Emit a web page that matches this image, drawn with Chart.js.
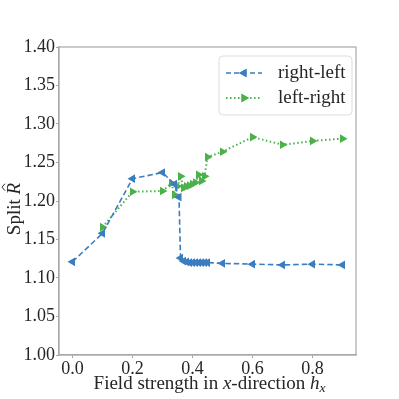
<!DOCTYPE html>
<html>
<head>
<meta charset="utf-8">
<script src="https://cdn.jsdelivr.net/npm/chart.js@4"></script>
<style>
  html, body { margin: 0; padding: 0; background: #fff; }
  #c { display: block; }
</style>
</head>
<body>
<canvas id="c" width="399" height="399"></canvas>
<script>
// datos
const xRightLeft = [0.0, 0.1, 0.2, 0.3, 0.34, 0.355, 0.36, 0.37, 0.38, 0.39, 0.40, 0.41, 0.42, 0.43, 0.44, 0.45, 0.5, 0.6, 0.7, 0.8, 0.9];
const yRightLeft = [1.121, 1.158, 1.229, 1.237, 1.222, 1.205, 1.126, 1.122, 1.121, 1.120, 1.120, 1.120, 1.120, 1.120, 1.120, 1.120, 1.119, 1.118, 1.117, 1.118, 1.117];

const xLeftRight = [0.1, 0.2, 0.3, 0.33, 0.34, 0.35, 0.36, 0.37, 0.38, 0.39, 0.40, 0.41, 0.42, 0.43, 0.44, 0.45, 0.5, 0.6, 0.7, 0.8, 0.9];
const yLeftRight = [1.166, 1.212, 1.213, 1.223, 1.208, 1.219, 1.232, 1.217, 1.219, 1.220, 1.222, 1.224, 1.234, 1.226, 1.232, 1.257, 1.264, 1.283, 1.273, 1.278, 1.281];

const xTicks = [0.0, 0.2, 0.4, 0.6, 0.8];
const yTicks = [1.00, 1.05, 1.10, 1.15, 1.20, 1.25, 1.30, 1.35, 1.40];

const BLUE = "#3a7ebf";
const GREEN = "#4cb14a";
const FONT = "'Liberation Serif', 'DejaVu Serif', serif";
const AXIS_GRAY = "#a8a8a8";
const TXT = "#262626";

function pts(xs, ys){ return xs.map((x, i) => ({x: x, y: ys[i]})); }

// marco, títulos y leyenda dibujados a mano
const decor = {
  id: "decor",
  afterDraw(chart){
    const ctx = chart.ctx;
    const a = chart.chartArea;
    ctx.save();
    ctx.strokeStyle = AXIS_GRAY;
    ctx.lineWidth = 1.2;
    ctx.strokeRect(a.left, a.top, a.right - a.left, a.bottom - a.top);

    // título eje x
    ctx.fillStyle = TXT;
    ctx.textBaseline = "alphabetic";
    const parts = [
      ["Field strength in ", "normal", 19],
      ["x", "italic", 19],
      ["-direction ", "normal", 19],
      ["h", "italic", 19],
      ["x", "italic", 13.5]
    ];
    let total = 0;
    parts.forEach(p => { ctx.font = p[1] + " " + p[2] + "px " + FONT; total += ctx.measureText(p[0]).width; });
    let x = 209.5 - total / 2;
    const by = 389;
    parts.forEach(p => {
      ctx.font = p[1] + " " + p[2] + "px " + FONT;
      ctx.fillText(p[0], x, p[2] < 19 ? by + 3 : by);
      x += ctx.measureText(p[0]).width;
    });

    // título eje y
    ctx.save();
    ctx.translate(20, 209);
    ctx.rotate(-Math.PI / 2);
    ctx.font = "normal 19px " + FONT;
    const w1 = ctx.measureText("Split ").width;
    ctx.font = "italic 19px " + FONT;
    const w2 = ctx.measureText("R").width;
    let sx = -(w1 + w2) / 2;
    ctx.font = "normal 19px " + FONT;
    ctx.fillText("Split ", sx, 0);
    ctx.font = "italic 19px " + FONT;
    ctx.fillText("R", sx + w1, 0);
    // sombrero sobre la R
    const hx = sx + w1 + w2 / 2 + 1.5;
    ctx.strokeStyle = TXT;
    ctx.lineWidth = 1;
    ctx.beginPath();
    ctx.moveTo(hx - 3.5, -15);
    ctx.lineTo(hx, -18);
    ctx.lineTo(hx + 3.5, -15);
    ctx.stroke();
    ctx.restore();

    // leyenda
    const lx = 219, ly = 56, lw = 133, lh = 59;
    ctx.beginPath();
    ctx.roundRect(lx, ly, lw, lh, 4);
    ctx.fillStyle = "rgba(255,255,255,0.8)";
    ctx.fill();
    ctx.strokeStyle = "#dcdcdc";
    ctx.lineWidth = 1;
    ctx.stroke();
    const rows = [
      {label: "right-left", color: BLUE, dash: [5, 3], w: 1.6, rot: -90, y: 73},
      {label: "left-right", color: GREEN, dash: [1.5, 2.5], w: 2, rot: 90, y: 98}
    ];
    rows.forEach(r => {
      ctx.strokeStyle = r.color;
      ctx.lineWidth = r.w;
      ctx.setLineDash(r.dash);
      ctx.beginPath();
      ctx.moveTo(226, r.y);
      ctx.lineTo(262, r.y);
      ctx.stroke();
      ctx.setLineDash([]);
      ctx.fillStyle = r.color;
      Chart.helpers.drawPoint(ctx, {pointStyle: "triangle", radius: 5, rotation: r.rot}, 244, r.y);
      ctx.fill();
      ctx.fillStyle = TXT;
      ctx.font = "19px " + FONT;
      ctx.textBaseline = "middle";
      ctx.fillText(r.label, 278, r.y);
    });
    ctx.restore();
  }
};

new Chart(document.getElementById("c"), {
  type: "line",
  data: {
    datasets: [
      {
        label: "right-left",
        data: pts(xRightLeft, yRightLeft),
        borderColor: BLUE,
        backgroundColor: BLUE,
        borderWidth: 1.6,
        borderDash: [5.5, 3],
        pointStyle: "triangle",
        pointRotation: -90,
        pointRadius: 5,
        pointBorderWidth: 0,
        tension: 0
      },
      {
        label: "left-right",
        data: pts(xLeftRight, yLeftRight),
        borderColor: GREEN,
        backgroundColor: GREEN,
        borderWidth: 2,
        borderDash: [1.5, 2.5],
        pointStyle: "triangle",
        pointRotation: 90,
        pointRadius: 5,
        pointBorderWidth: 0,
        tension: 0
      }
    ]
  },
  options: {
    responsive: false,
    animation: false,
    layout: { padding: { top: 47, right: 43, left: 0, bottom: 0 } },
    plugins: { legend: { display: false }, tooltip: { enabled: false } },
    scales: {
      x: {
        type: "linear",
        min: -0.045,
        max: 0.945,
        afterBuildTicks: s => { s.ticks = xTicks.map(v => ({value: v})); },
        afterFit: s => { s.height = 44; },
        grid: { drawOnChartArea: false, drawTicks: true, tickLength: 3, color: AXIS_GRAY },
        border: { color: AXIS_GRAY, width: 1.2 },
        ticks: {
          color: TXT,
          padding: 0,
          maxRotation: 0,
          font: { family: FONT, size: 18 },
          callback: v => v.toFixed(1)
        }
      },
      y: {
        min: 1.0,
        max: 1.4,
        afterBuildTicks: s => { s.ticks = yTicks.map(v => ({value: v})); },
        afterFit: s => { s.width = 59; },
        grid: { drawOnChartArea: false, drawTicks: true, tickLength: 3, color: AXIS_GRAY },
        border: { color: AXIS_GRAY, width: 1.2 },
        ticks: {
          color: TXT,
          padding: 1,
          font: { family: FONT, size: 18 },
          callback: v => v.toFixed(2)
        }
      }
    }
  },
  plugins: [decor]
});
</script>
</body>
</html>
